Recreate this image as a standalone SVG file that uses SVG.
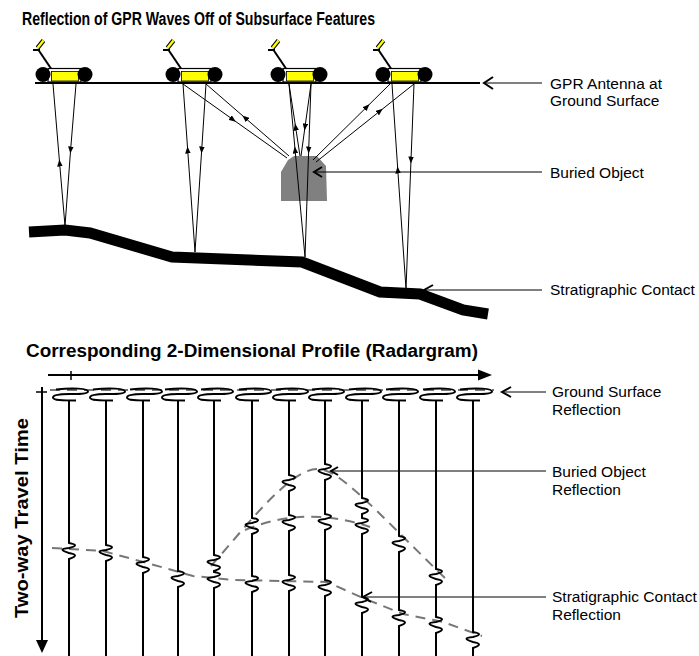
<svg xmlns="http://www.w3.org/2000/svg" xmlns:xlink="http://www.w3.org/1999/xlink" width="699" height="656" viewBox="0 0 699 656">
  <style>
    .ttl { font-family: "Liberation Sans Narrow", "Liberation Sans", Arial, sans-serif; font-weight: bold; font-size: 18px; fill: #000; }
    .axl { font-family: "Liberation Sans", Arial, sans-serif; font-weight: bold; font-size: 19px; fill: #000; }
    .lbl { font-family: "Liberation Sans", Arial, sans-serif; font-size: 15.5px; fill: #000; }
    .ray { stroke: #000; stroke-width: 1; fill: none; marker-mid: url(#ah); }
    .lead { stroke: #000; stroke-width: 1; fill: none; }
    .chev { stroke: #000; stroke-width: 2; fill: none; stroke-linejoin: miter; }
    .trace { stroke: #000; stroke-width: 2; fill: none; }
    .dash { stroke: #777; stroke-width: 2; stroke-dasharray: 10 7; fill: none; }
  </style>
  <defs>
    <marker id="ah" viewBox="0 0 10 8" refX="5" refY="4" markerWidth="7" markerHeight="5.6" markerUnits="userSpaceOnUse" orient="auto">
      <path d="M0,0 L10,4 L0,8 z" fill="#000"/>
    </marker>
    <!-- radar cart: origin at left wheel centre x, ground line y -->
    <g id="cart">
      <line x1="9" y1="70" x2="-4.5" y2="50" stroke="#000" stroke-width="2"/>
      <line x1="-10" y1="50" x2="-3" y2="50" stroke="#000" stroke-width="2"/>
      <line x1="-5.5" y1="48" x2="0.5" y2="40.5" stroke="#000" stroke-width="4.5"/>
      <line x1="-5.5" y1="48" x2="0.5" y2="40.5" stroke="#ff0" stroke-width="2.5"/>
      <rect x="5" y="68.5" width="33" height="13.5" fill="#fff" stroke="#000" stroke-width="1.2"/>
      <rect x="8.5" y="71.5" width="27" height="9.5" fill="#ff0" stroke="#000" stroke-width="0.8"/>
      <circle cx="0" cy="74.5" r="7.5" fill="#000"/>
      <circle cx="42" cy="74.5" r="7.5" fill="#000"/>
    </g>
    <!-- ground-surface loop at the head of each trace, origin at trace x, y=389 -->
    <path id="gl" d="M-13,0.5 C4,-1.5 19,-0.5 19,2.5 C19,5 8,5 0,5 C-9,5 -16,6 -16,8.5 C-16,11.5 -6,11.5 7,11.5" class="trace"/>
  </defs>

  <!-- titles -->
  <g id="titles">
    <text class="ttl" x="22" y="25" textLength="353" lengthAdjust="spacingAndGlyphs">Reflection of GPR Waves Off of Subsurface Features</text>
    <text class="ttl" x="26" y="357" textLength="452" lengthAdjust="spacingAndGlyphs">Corresponding 2-Dimensional Profile (Radargram)</text>
  </g>

  <!-- buried object -->
  <g id="buried-object">
    <path d="M281,201 L281,172 L288,160 L294,156 L317,156 L326,166 L327,201 Z" fill="#808080"/>
  </g>

  <!-- wave paths -->
  <g id="connectors">
    <!-- cart 1 -->
    <path class="ray" d="M65,226 L59.6,163 L53,84"/>
    <path class="ray" d="M76,84 L70.6,150 L65,226"/>
    <!-- cart 2 -->
    <path class="ray" d="M195,252 L187.7,150 L183,84"/>
    <path class="ray" d="M206,84 L201.7,150 L195,252"/>
    <path class="ray" d="M183,84 L233,119.6 L287,158"/>
    <path class="ray" d="M289,156 L245,117.8 L206,84"/>
    <!-- cart 3 -->
    <path class="ray" d="M305,257 L295.1,150 L289,84"/>
    <path class="ray" d="M311,84 L308.7,150 L305,257"/>
    <path class="ray" d="M300,156 L295.6,127 L289,84"/>
    <path class="ray" d="M311,84 L305,127 L301,156"/>
    <!-- cart 4 -->
    <path class="ray" d="M406,289 L397.8,170 L392,84"/>
    <path class="ray" d="M414,84 L411,160 L406,289"/>
    <path class="ray" d="M313,160 L367,106.7 L390,84"/>
    <path class="ray" d="M316,162 L380,111 L414,84"/>
  </g>

  <!-- ground surface -->
  <g id="ground-surface">
    <line x1="35" y1="83" x2="480" y2="83" stroke="#000" stroke-width="2"/>
  </g>

  <!-- stratigraphic contact -->
  <g id="stratigraphic-contact">
    <polyline points="29,232 65,230 90,233 172,257 302,262 380,292 420,294 463,310 488,314" fill="none" stroke="#000" stroke-width="11" stroke-linejoin="miter" stroke-miterlimit="10"/>
  </g>

  <!-- antennas -->
  <g id="cart-1"><use xlink:href="#cart" x="43"/></g>
  <g id="cart-2"><use xlink:href="#cart" x="173"/></g>
  <g id="cart-3"><use xlink:href="#cart" x="278"/></g>
  <g id="cart-4"><use xlink:href="#cart" x="383"/></g>

  <!-- callouts, upper section -->
  <g id="label-antenna">
    <line class="lead" x1="485" y1="83" x2="542" y2="83"/>
    <path class="chev" d="M493,77 L484,83 L493,89"/>
    <text class="lbl" x="550" y="89">GPR Antenna at</text>
    <text class="lbl" x="550" y="106">Ground Surface</text>
  </g>
  <g id="label-object">
    <line class="lead" x1="315" y1="172" x2="542" y2="172"/>
    <path class="chev" d="M322,167 L314,172 L322,177" stroke-width="2.5"/>
    <text class="lbl" x="550" y="178">Buried Object</text>
  </g>
  <g id="label-contact">
    <line class="lead" x1="424" y1="290" x2="542" y2="290"/>
    <path class="chev" d="M433,285 L424,290 L432,295" stroke-width="2.5"/>
    <text class="lbl" x="550" y="295">Stratigraphic Contact</text>
  </g>

  <!-- radargram axes -->
  <g id="axes">
    <line x1="48" y1="375" x2="480" y2="375" stroke="#000" stroke-width="2"/>
    <path d="M478,369.5 L492,375 L478,380.5 Z" fill="#000"/>
    <line x1="71" y1="371" x2="71" y2="380" stroke="#000" stroke-width="1.5"/>
    <line x1="42" y1="387" x2="42" y2="641" stroke="#000" stroke-width="2"/>
    <path d="M36,640 L42,653 L48,640 Z" fill="#000"/>
    <line x1="36" y1="392" x2="47" y2="392" stroke="#000" stroke-width="1.5"/>
    <text class="axl" x="28" y="518" text-anchor="middle" transform="rotate(-90 28 518)" textLength="200" lengthAdjust="spacingAndGlyphs">Two-way Travel Time</text>
  </g>

  <!-- reflection alignments -->
  <g id="reflection-lines">
    <line class="dash" x1="50" y1="390" x2="494" y2="390"/>
    <path class="dash" d="M52,548 L103,551 L147,563 L193,576 L233,580 L327,582 L363,598 L403,614 L443,622 L482,636"/>
    <path class="dash" d="M211,566 C245,528 290,468 318,469 C340,470 370,505 447,580"/>
    <path class="dash" d="M245,530 Q305,505 370,527"/>
  </g>

  <!-- wiggle traces -->
  <g id="traces">
    <use xlink:href="#gl" x="69" y="389"/>
    <use xlink:href="#gl" x="106" y="389"/>
    <use xlink:href="#gl" x="143" y="389"/>
    <use xlink:href="#gl" x="178" y="389"/>
    <use xlink:href="#gl" x="214" y="389"/>
    <use xlink:href="#gl" x="252" y="389"/>
    <use xlink:href="#gl" x="289" y="389"/>
    <use xlink:href="#gl" x="325" y="389"/>
    <use xlink:href="#gl" x="362" y="389"/>
    <use xlink:href="#gl" x="399" y="389"/>
    <use xlink:href="#gl" x="436" y="389"/>
    <use xlink:href="#gl" x="473" y="389"/>
    <path class="trace" d="M69,400.5 V543 q12,2 0,5 q-13,1 0,5 q12,2 0,6 V656"/>
    <path class="trace" d="M106,400.5 V545 q12,2 0,5 q-13,1 0,5 q12,2 0,6 V656"/>
    <path class="trace" d="M143,400.5 V557 q12,2 0,5 q-13,1 0,5 q12,2 0,6 V656"/>
    <path class="trace" d="M178,400.5 V571 q12,2 0,5 q-13,1 0,5 q12,2 0,6 V656"/>
    <path class="trace" d="M214,400.5 V555 q12,2 0,5 q-13,1 0,5 q12,2 0,6 V572 q12,2 0,5 q-13,1 0,5 q12,2 0,6 V656"/>
    <path class="trace" d="M252,400.5 V518 q12,2 0,5 q-13,1 0,5 q12,2 0,6 V576 q12,2 0,5 q-13,1 0,5 q12,2 0,6 V656"/>
    <path class="trace" d="M289,400.5 V475 q12,2 0,5 q-13,1 0,5 q12,2 0,6 V515 q12,2 0,5 q-13,1 0,5 q12,2 0,6 V575 q12,2 0,5 q-13,1 0,5 q12,2 0,6 V656"/>
    <path class="trace" d="M325,400.5 V464 q12,2 0,5 q-13,1 0,5 q12,2 0,6 V514 q12,2 0,5 q-13,1 0,5 q12,2 0,6 V580 q12,2 0,5 q-13,1 0,5 q12,2 0,6 V656"/>
    <path class="trace" d="M362,400.5 V498 q12,2 0,5 q-13,1 0,5 q12,2 0,6 V518 q12,2 0,5 q-13,1 0,5 q12,2 0,6 V597 q12,2 0,5 q-13,1 0,5 q12,2 0,6 V656"/>
    <path class="trace" d="M399,400.5 V536 q12,2 0,5 q-13,1 0,5 q12,2 0,6 V610 q12,2 0,5 q-13,1 0,5 q12,2 0,6 V656"/>
    <path class="trace" d="M436,400.5 V569 q12,2 0,5 q-13,1 0,5 q12,2 0,6 V617 q12,2 0,5 q-13,1 0,5 q12,2 0,6 V656"/>
    <path class="trace" d="M473,400.5 V632 q12,2 0,5 q-13,1 0,5 q12,2 0,6 V656"/>
  </g>

  <!-- callouts, radargram -->
  <g id="label-ground-reflection">
    <line class="lead" x1="503" y1="392" x2="546" y2="392"/>
    <path class="chev" d="M511,387 L502,392 L511,397"/>
    <text class="lbl" x="552" y="397">Ground Surface</text>
    <text class="lbl" x="552" y="415">Reflection</text>
  </g>
  <g id="label-object-reflection">
    <line class="lead" x1="331" y1="471" x2="546" y2="471"/>
    <path class="chev" d="M338,467 L331,471 L338,475"/>
    <text class="lbl" x="552" y="477">Buried Object</text>
    <text class="lbl" x="552" y="495">Reflection</text>
  </g>
  <g id="label-contact-reflection">
    <line class="lead" x1="364" y1="597" x2="546" y2="597"/>
    <path class="chev" d="M372,592 L363,597 L371,602"/>
    <text class="lbl" x="552" y="602">Stratigraphic Contact</text>
    <text class="lbl" x="552" y="620">Reflection</text>
  </g>
</svg>
